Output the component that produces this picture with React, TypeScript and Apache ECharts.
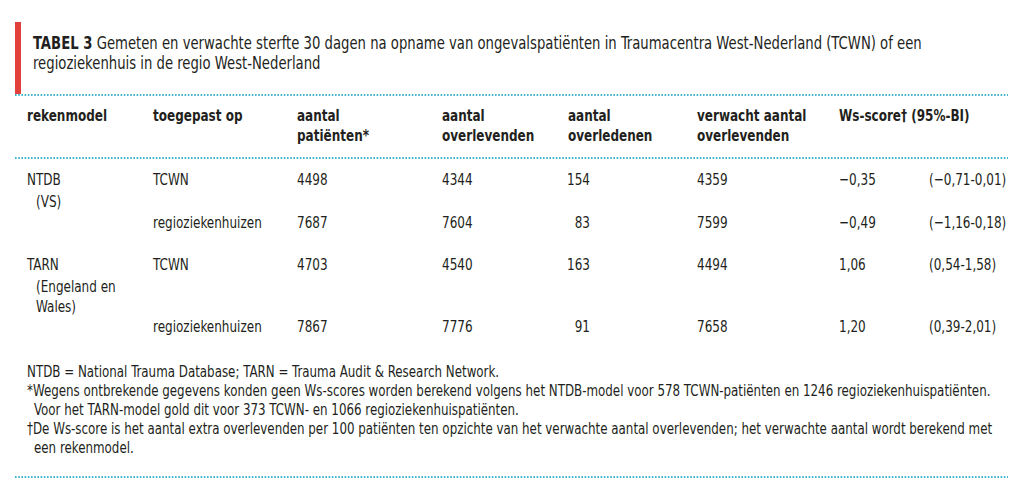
import React, { useEffect, useRef } from "react";
import * as echarts from "echarts";

// ---- data ----
const titleBold = "TABEL 3";
const titleLines = [
  " Gemeten en verwachte sterfte 30 dagen na opname van ongevalspatiënten in Traumacentra West-Nederland (TCWN) of een",
  "regioziekenhuis in de regio West-Nederland",
];
const headers = [
  "rekenmodel",
  "toegepast op",
  "aantal\npatiënten*",
  "aantal\noverlevenden",
  "aantal\noverledenen",
  "verwacht aantal\noverlevenden",
  "Ws-score† (95%-BI)",
];
const modelNames = ["NTDB", "TARN"];
const modelRegions = ["(VS)", "(Engeland en\nWales)"];
const appliedTo = ["TCWN", "regioziekenhuizen", "TCWN", "regioziekenhuizen"];
const patients = [4498, 7687, 4703, 7867];
const survivors = [4344, 7604, 4540, 7776];
const deaths = [154, 83, 163, 91];
const expectedSurvivors = [4359, 7599, 4494, 7658];
const wsScore = [-0.35, -0.49, 1.06, 1.2];
const ciLow = [-0.71, -1.16, 0.54, 0.39];
const ciHigh = [0.01, 0.18, 1.58, 2.01];
const footnotes = [
  "NTDB = National Trauma Database; TARN = Trauma Audit & Research Network.",
  "*Wegens ontbrekende gegevens konden geen Ws-scores worden berekend volgens het NTDB-model voor 578 TCWN-patiënten en 1246 regioziekenhuispatiënten.",
  "Voor het TARN-model gold dit voor 373 TCWN- en 1066 regioziekenhuispatiënten.",
  "†De Ws-score is het aantal extra overlevenden per 100 patiënten ten opzichte van het verwachte aantal overlevenden; het verwachte aantal wordt berekend met",
  "een rekenmodel.",
];
const footnoteIndent = [false, false, true, false, true];

// ---- layout ----
const FONT = "'Liberation Sans Narrow', 'DejaVu Sans Condensed', 'Noto Sans', sans-serif";
const TEXT = "#231f20";
const DOT = "#3cb6c8";
const RED = "#e2403a";
const FS = 16.5;
const SX = 0.81;
const colX = [27, 153, 297, 442, 568, 697, 839];
const deathsRight = 590;
const ciX = 929;
const subIndentX = 36;
const rowY = [180, 223, 265, 327];
const modelRowIdx = [0, 2];
const LH = 21;

const fmt = (v: number) => (v < 0 ? "\u2212" : "") + Math.abs(v).toFixed(2).replace(".", ",");

function measure(text: string, size: number, bold = false) {
  const c = document.createElement("canvas").getContext("2d")!;
  c.font = `${bold ? "bold " : ""}${size}px ${FONT}`;
  return c.measureText(text).width;
}

function txt(text: string, x: number, cy: number, opts: any = {}) {
  const lh = opts.lineHeight ?? LH;
  return {
    type: "text",
    x,
    y: cy - lh / 2,
    scaleX: opts.scaleX ?? SX,
    silent: true,
    style: {
      text,
      fill: TEXT,
      fontFamily: FONT,
      fontSize: opts.fontSize ?? FS,
      fontWeight: opts.bold ? "bold" : "normal",
      lineHeight: lh,
      align: opts.align ?? "left",
      verticalAlign: "top",
      rich: opts.rich,
    },
  };
}

function dotted(y: number) {
  return {
    type: "line",
    silent: true,
    shape: { x1: 15, y1: y, x2: 1008, y2: y },
    style: { stroke: DOT, lineWidth: 2, lineDash: [1.6, 1.6] },
  };
}

export default function App() {
  const ref = useRef<HTMLDivElement>(null);
  useEffect(() => {
    document.body.style.margin = "0";
    const chart = echarts.init(ref.current!, null, { renderer: "svg" });
    const els: any[] = [];
    // red bar
    els.push({ type: "rect", silent: true, shape: { x: 15, y: 22, width: 6, height: 72 }, style: { fill: RED } });
    // title
    const tw = measure(titleBold, 17, true) + measure(titleLines[0], 17);
    const titleScale = Math.min(0.9, 890 / tw);
    els.push(
      txt(`{b|${titleBold}}{r|${titleLines[0]}}\n{r|${titleLines[1]}}`, 33, 43, {
        lineHeight: 20,
        fontSize: 17,
        scaleX: titleScale,
        rich: {
          b: { fontFamily: FONT, fontSize: 17, fontWeight: "bold", fill: TEXT, lineHeight: 20 },
          r: { fontFamily: FONT, fontSize: 17, fill: TEXT, lineHeight: 20 },
        },
      })
    );
    els.push(dotted(95), dotted(158), dotted(477));
    // headers
    headers.forEach((h, i) => els.push(txt(h, colX[i], 116, { bold: true, lineHeight: 20 })));
    // model names
    modelNames.forEach((m, k) => {
      const y = rowY[modelRowIdx[k]];
      els.push(txt(m, colX[0], y));
      els.push(txt(modelRegions[k], subIndentX, y + 22, { lineHeight: 20 }));
    });
    // rows
    rowY.forEach((y, i) => {
      els.push(txt(appliedTo[i], colX[1], y));
      els.push(txt(String(patients[i]), colX[2], y));
      els.push(txt(String(survivors[i]), colX[3], y));
      els.push(txt(String(deaths[i]), deathsRight, y, { align: "right" }));
      els.push(txt(String(expectedSurvivors[i]), colX[5], y));
      els.push(txt(fmt(wsScore[i]), colX[6], y));
      els.push(txt(`(${fmt(ciLow[i])}-${fmt(ciHigh[i])})`, ciX, y));
    });
    // footnotes
    const fw = measure(footnotes[3], FS);
    const footScale = Math.min(0.9, (992 - 27) / fw);
    footnotes.forEach((f, i) => {
      els.push(txt(f, footnoteIndent[i] ? 34 : 27, 371 + i * 19.2, { lineHeight: 19, scaleX: footScale }));
    });
    chart.setOption({
      animation: false,
      backgroundColor: "#ffffff",
      graphic: { elements: els },
    });
    return () => chart.dispose();
  }, []);
  return <div ref={ref} style={{ width: 1024, height: 498 }} />;
}
